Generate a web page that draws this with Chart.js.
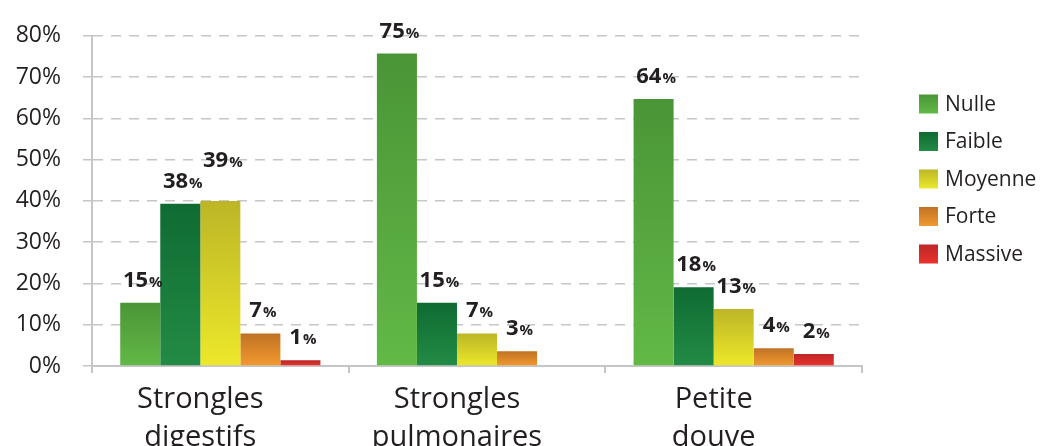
<!DOCTYPE html>
<html>
<head>
<meta charset="utf-8">
<script src="https://cdn.jsdelivr.net/npm/chart.js@4.4.0/dist/chart.umd.min.js"></script>
<style>
  html, body { margin: 0; padding: 0; background: #fff; }
  #wrap { width: 1042px; height: 446px; }
</style>
</head>
<body>
<div id="wrap"><canvas id="chart" width="1042" height="446"></canvas></div>
<script>
// categories and series (bar heights, printed labels kept apart)
const categories = [["Strongles", "digestifs"], ["Strongles", "pulmonaires"], ["Petite", "douve"]];
const seriesNames = ["Nulle", "Faible", "Moyenne", "Forte", "Massive"];

const nulle   = [15.3, 75.7, 64.7];
const faible  = [39.3, 15.3, 19.1];
const moyenne = [40.0, 7.9, 13.8];
const forte   = [7.9, 3.6, 4.3];
const massive = [1.4, 0, 2.9];

const nulleLabels   = [15, 75, 64];
const faibleLabels  = [38, 15, 18];
const moyenneLabels = [39, 7, 13];
const forteLabels   = [7, 3, 4];
const massiveLabels = [1, null, 2];

const yTicks = [0, 10, 20, 30, 40, 50, 60, 70, 80];

// top / bottom colours of each gradient
const gradColors = [
    ["#4a9537", "#62b946"],
    ["#0f6b32", "#238b45"],
    ["#bcb626", "#ede82a"],
    ["#c07224", "#f29a2f"],
    ["#bd2727", "#e9332d"]
];

const textColor = "#231f20";
const fontFamily = "'Open Sans', 'DejaVu Sans', sans-serif";

function barGradient(ctx) {
    const chart = ctx.chart;
    const i = ctx.datasetIndex;
    if (ctx.type !== 'data' || !chart.chartArea) return gradColors[i][1];
    const yScale = chart.scales.y;
    const top = yScale.getPixelForValue(ctx.parsed.y);
    const base = yScale.getPixelForValue(0);
    if (!(base - top > 0)) return gradColors[i][1];
    const g = chart.ctx.createLinearGradient(0, top, 0, base);
    g.addColorStop(0, gradColors[i][0]);
    g.addColorStop(1, gradColors[i][1]);
    return g;
}

const allValues = [nulle, faible, moyenne, forte, massive];
const allLabels = [nulleLabels, faibleLabels, moyenneLabels, forteLabels, massiveLabels];

// bold number with a smaller % above each bar, lifted if it would hit its left neighbour
const valueLabels = {
    id: 'valueLabels',
    afterDatasetsDraw(chart) {
        const c = chart.ctx;
        const nCat = chart.data.labels.length;
        c.save();
        c.fillStyle = textColor;
        c.textBaseline = 'alphabetic';
        c.textAlign = 'left';
        for (let j = 0; j < nCat; j++) {
            let prev = null;
            chart.data.datasets.forEach((ds, i) => {
                const lab = allLabels[i][j];
                if (lab === null) return;
                const bar = chart.getDatasetMeta(i).data[j];
                const num = String(lab);
                c.font = "bold 22px " + fontFamily;
                const w1 = c.measureText(num).width;
                c.font = "bold 15px " + fontFamily;
                const w2 = c.measureText("%").width;
                const x0 = bar.x - (w1 + w2) / 2 + 2;
                let y0 = bar.y - 16;
                if (prev && x0 < prev.right + 8 && y0 > prev.top && y0 - 17 < prev.bottom) {
                    y0 = prev.top - 4;
                }
                c.font = "bold 22px " + fontFamily;
                c.fillText(num, x0, y0);
                c.font = "bold 15px " + fontFamily;
                c.fillText("%", x0 + w1 + 1, y0);
                prev = { right: x0 + w1 + w2 + 1, top: y0 - 17, bottom: y0 };
            });
        }
        c.restore();
    }
};

// legend on the right with gradient swatches
const sideLegend = {
    id: 'sideLegend',
    afterDraw(chart) {
        const c = chart.ctx;
        const boxX = 919, firstY = 104, step = 37.5, box = 19;
        c.save();
        chart.data.datasets.forEach((ds, i) => {
            const cy = firstY + i * step;
            const g = c.createLinearGradient(0, cy - box / 2, 0, cy + box / 2);
            g.addColorStop(0, gradColors[i][0]);
            g.addColorStop(1, gradColors[i][1]);
            c.fillStyle = g;
            c.fillRect(boxX, cy - box / 2, box, box);
            c.fillStyle = textColor;
            c.font = "21px " + fontFamily;
            c.textAlign = 'left';
            c.textBaseline = 'middle';
            c.fillText(ds.label, boxX + box + 7, cy + 1);
        });
        c.restore();
    }
};

const myChart = new Chart(document.getElementById("chart"), {
    type: 'bar',
    data: {
        labels: categories,
        datasets: seriesNames.map((name, i) => ({
            label: name,
            data: allValues[i],
            backgroundColor: barGradient,
            borderWidth: 0,
            categoryPercentage: 0.78,
            barPercentage: 1
        }))
    },
    plugins: [valueLabels, sideLegend],
    options: {
        responsive: false,
        animation: false,
        layout: {
            padding: { top: 31, right: 180, left: 0, bottom: 0 }
        },
        plugins: {
            legend: { display: false },
            tooltip: { enabled: false }
        },
        scales: {
            x: {
                offset: true,
                grid: {
                    display: true,
                    drawOnChartArea: false,
                    offset: true,
                    color: '#c6c6c8',
                    tickLength: 7,
                    lineWidth: 2
                },
                border: { color: '#c6c6c8', width: 2 },
                ticks: {
                    color: textColor,
                    padding: 8,
                    labelOffset: -20,
                    maxRotation: 0,
                    font: { family: fontFamily, size: 29, lineHeight: 1.3 }
                },
                afterFit(scale) { scale.height = 80; }
            },
            y: {
                min: 0,
                max: 80,
                afterBuildTicks(scale) { scale.ticks = yTicks.map(v => ({ value: v })); },
                grid: {
                    color: '#c6c6c8',
                    lineWidth: 1.5,
                    tickLength: 9,
                    tickBorderDash: [],
                    drawTicks: true
                },
                border: { color: '#c6c6c8', width: 2, dash: [10, 8] },
                ticks: {
                    color: textColor,
                    padding: 22,
                    font: { family: fontFamily, size: 23 },
                    callback: v => v + '%'
                },
                afterFit(scale) { scale.width = 92; }
            }
        }
    }
});
</script>
</body>
</html>
